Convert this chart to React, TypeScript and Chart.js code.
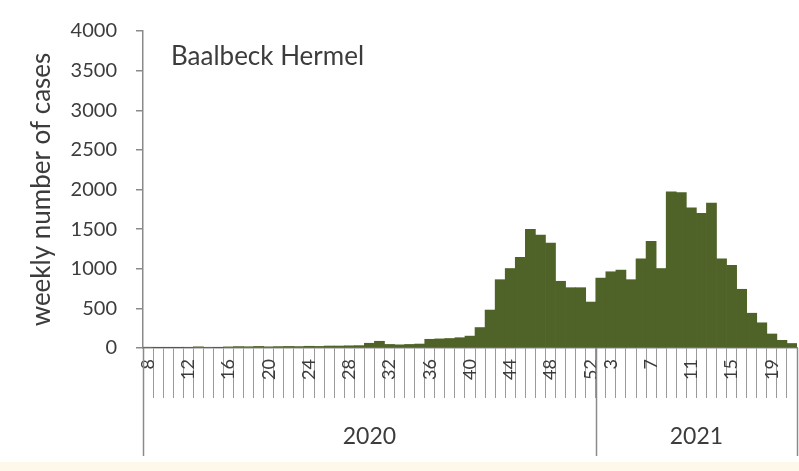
import React, { useEffect, useRef } from "react";
import { Chart, registerables } from "chart.js";

Chart.register(...registerables);

// ---- data ----
const WEEKS_2020 = [8, 9, 10, 11, 12, 13, 14, 15, 16, 17, 18, 19, 20, 21, 22, 23, 24, 25, 26, 27, 28, 29, 30, 31, 32, 33, 34, 35, 36, 37, 38, 39, 40, 41, 42, 43, 44, 45, 46, 47, 48, 49, 50, 51, 52];
const WEEKS_2021 = [2, 3, 4, 5, 6, 7, 8, 9, 10, 11, 12, 13, 14, 15, 16, 17, 18, 19, 20, 21];
const CASES_2020 = [10, 5, 3, 2, 6, 15, 8, 5, 14, 18, 16, 20, 15, 18, 20, 18, 22, 20, 25, 25, 28, 30, 60, 85, 45, 40, 45, 50, 110, 115, 120, 130, 150, 258, 479, 862, 1003, 1144, 1498, 1426, 1325, 842, 761, 761, 580];
const CASES_2021 = [882, 962, 983, 862, 1124, 1345, 1003, 1970, 1960, 1768, 1700, 1829, 1124, 1043, 741, 439, 318, 177, 97, 57];
const TICK_WEEKS_2020 = [8, 12, 16, 20, 24, 28, 32, 36, 40, 44, 48, 52];
const TICK_WEEKS_2021 = [3, 7, 11, 15, 19];
const YEARS = ["2020", "2021"];
const Y_TICKS = [0, 500, 1000, 1500, 2000, 2500, 3000, 3500, 4000];
const REGION = "Baalbeck Hermel";
const Y_TITLE = "weekly number of cases";

const BAR_COLOR = "#4f6228";
const AXIS_COLOR = "#8a8a8a";
const TEXT_COLOR = "#3c3c3c";
const FONT = "Lato";

const labels = [
  ...WEEKS_2020.map((w) => ({ year: YEARS[0], week: w })),
  ...WEEKS_2021.map((w) => ({ year: YEARS[1], week: w })),
];
const values = [...CASES_2020, ...CASES_2021];
const yearGroups = [
  { year: YEARS[0], start: 0, end: WEEKS_2020.length - 1 },
  { year: YEARS[1], start: WEEKS_2020.length, end: WEEKS_2020.length + WEEKS_2021.length - 1 },
];

const overlayPlugin = {
  id: "overlay",
  afterDraw(chart: any) {
    const { ctx, chartArea, scales } = chart;
    const x = scales.x;
    ctx.save();
    // region label inside plot
    ctx.fillStyle = TEXT_COLOR;
    ctx.font = `26px ${FONT}`;
    ctx.textAlign = "left";
    ctx.textBaseline = "middle";
    ctx.fillText(REGION, chartArea.left + 28, 57);
    // year level of the category axis
    const half = (x.getPixelForValue(1) - x.getPixelForValue(0)) / 2;
    ctx.strokeStyle = AXIS_COLOR;
    ctx.lineWidth = 1.5;
    const bounds: number[] = [];
    yearGroups.forEach((g, i) => {
      const left = x.getPixelForValue(g.start) - half;
      const right = x.getPixelForValue(g.end) + half;
      if (i === 0) bounds.push(left);
      bounds.push(right);
      ctx.font = `23px ${FONT}`;
      ctx.textAlign = "center";
      ctx.textBaseline = "middle";
      ctx.fillStyle = TEXT_COLOR;
      ctx.fillText(g.year, (left + right) / 2, 437);
    });
    bounds.forEach((bx) => {
      const px = Math.round(bx) + 0.5;
      ctx.beginPath();
      ctx.moveTo(px, chartArea.bottom);
      ctx.lineTo(px, 456);
      ctx.stroke();
    });
    ctx.restore();
  },
};

export default function App() {
  const ref = useRef<HTMLCanvasElement | null>(null);
  useEffect(() => {
    if (!ref.current) return;
    const chart = new Chart(ref.current, {
      type: "bar",
      data: {
        labels: labels.map((l) => `${l.year}-${l.week}`),
        datasets: [
          {
            data: values,
            backgroundColor: BAR_COLOR,
            borderWidth: 0,
            barPercentage: 1,
            categoryPercentage: 1,
          },
        ],
      },
      options: {
        animation: false,
        responsive: false,
        maintainAspectRatio: false,
        layout: { padding: { top: 17, right: 2, left: 0, bottom: 0 } },
        plugins: { legend: { display: false }, tooltip: { enabled: false }, title: { display: false } },
        scales: {
          x: {
            type: "category",
            offset: true,
            afterFit(scale: any) {
              scale.height = 123;
            },
            grid: {
              display: true,
              offset: true,
              drawOnChartArea: false,
              drawTicks: true,
              tickLength: 50,
              color: "#9a9a9a",
              lineWidth: 1,
            },
            border: { display: true, color: AXIS_COLOR, width: 1.5 },
            ticks: {
              autoSkip: false,
              minRotation: 90,
              maxRotation: 90,
              padding: -39,
              color: TEXT_COLOR,
              font: { family: FONT, size: 18 },
              callback(_v: any, i: number) {
                const l = labels[i];
                const list = l.year === YEARS[0] ? TICK_WEEKS_2020 : TICK_WEEKS_2021;
                return list.includes(l.week) ? String(l.week) : "";
              },
            },
          },
          y: {
            min: 0,
            max: 4000,
            afterFit(scale: any) {
              scale.width = 143;
            },
            afterBuildTicks(scale: any) {
              scale.ticks = Y_TICKS.map((v) => ({ value: v }));
            },
            grid: {
              display: true,
              drawOnChartArea: false,
              drawTicks: true,
              tickLength: 7,
              color: AXIS_COLOR,
              lineWidth: 1.5,
            },
            border: { display: true, color: AXIS_COLOR, width: 1.5 },
            ticks: {
              padding: 19,
              color: TEXT_COLOR,
              font: { family: FONT, size: 20 },
              callback(v: any) {
                return String(v);
              },
            },
            title: {
              display: true,
              text: Y_TITLE,
              color: TEXT_COLOR,
              font: { family: FONT, size: 26 },
              padding: { top: 26, bottom: 0 },
            },
          },
        },
      },
      plugins: [overlayPlugin],
    });
    return () => chart.destroy();
  }, []);
  return (
    <div style={{ position: "fixed", left: 0, top: 0, width: 799, height: 471, background: "#ffffff" }}>
      <div style={{ position: "absolute", left: 0, top: 462, width: 799, height: 9, background: "#fdf8ea" }} />
      <canvas ref={ref} width={799} height={471} style={{ position: "absolute", left: 0, top: 0, width: 799, height: 471 }} />
    </div>
  );
}
